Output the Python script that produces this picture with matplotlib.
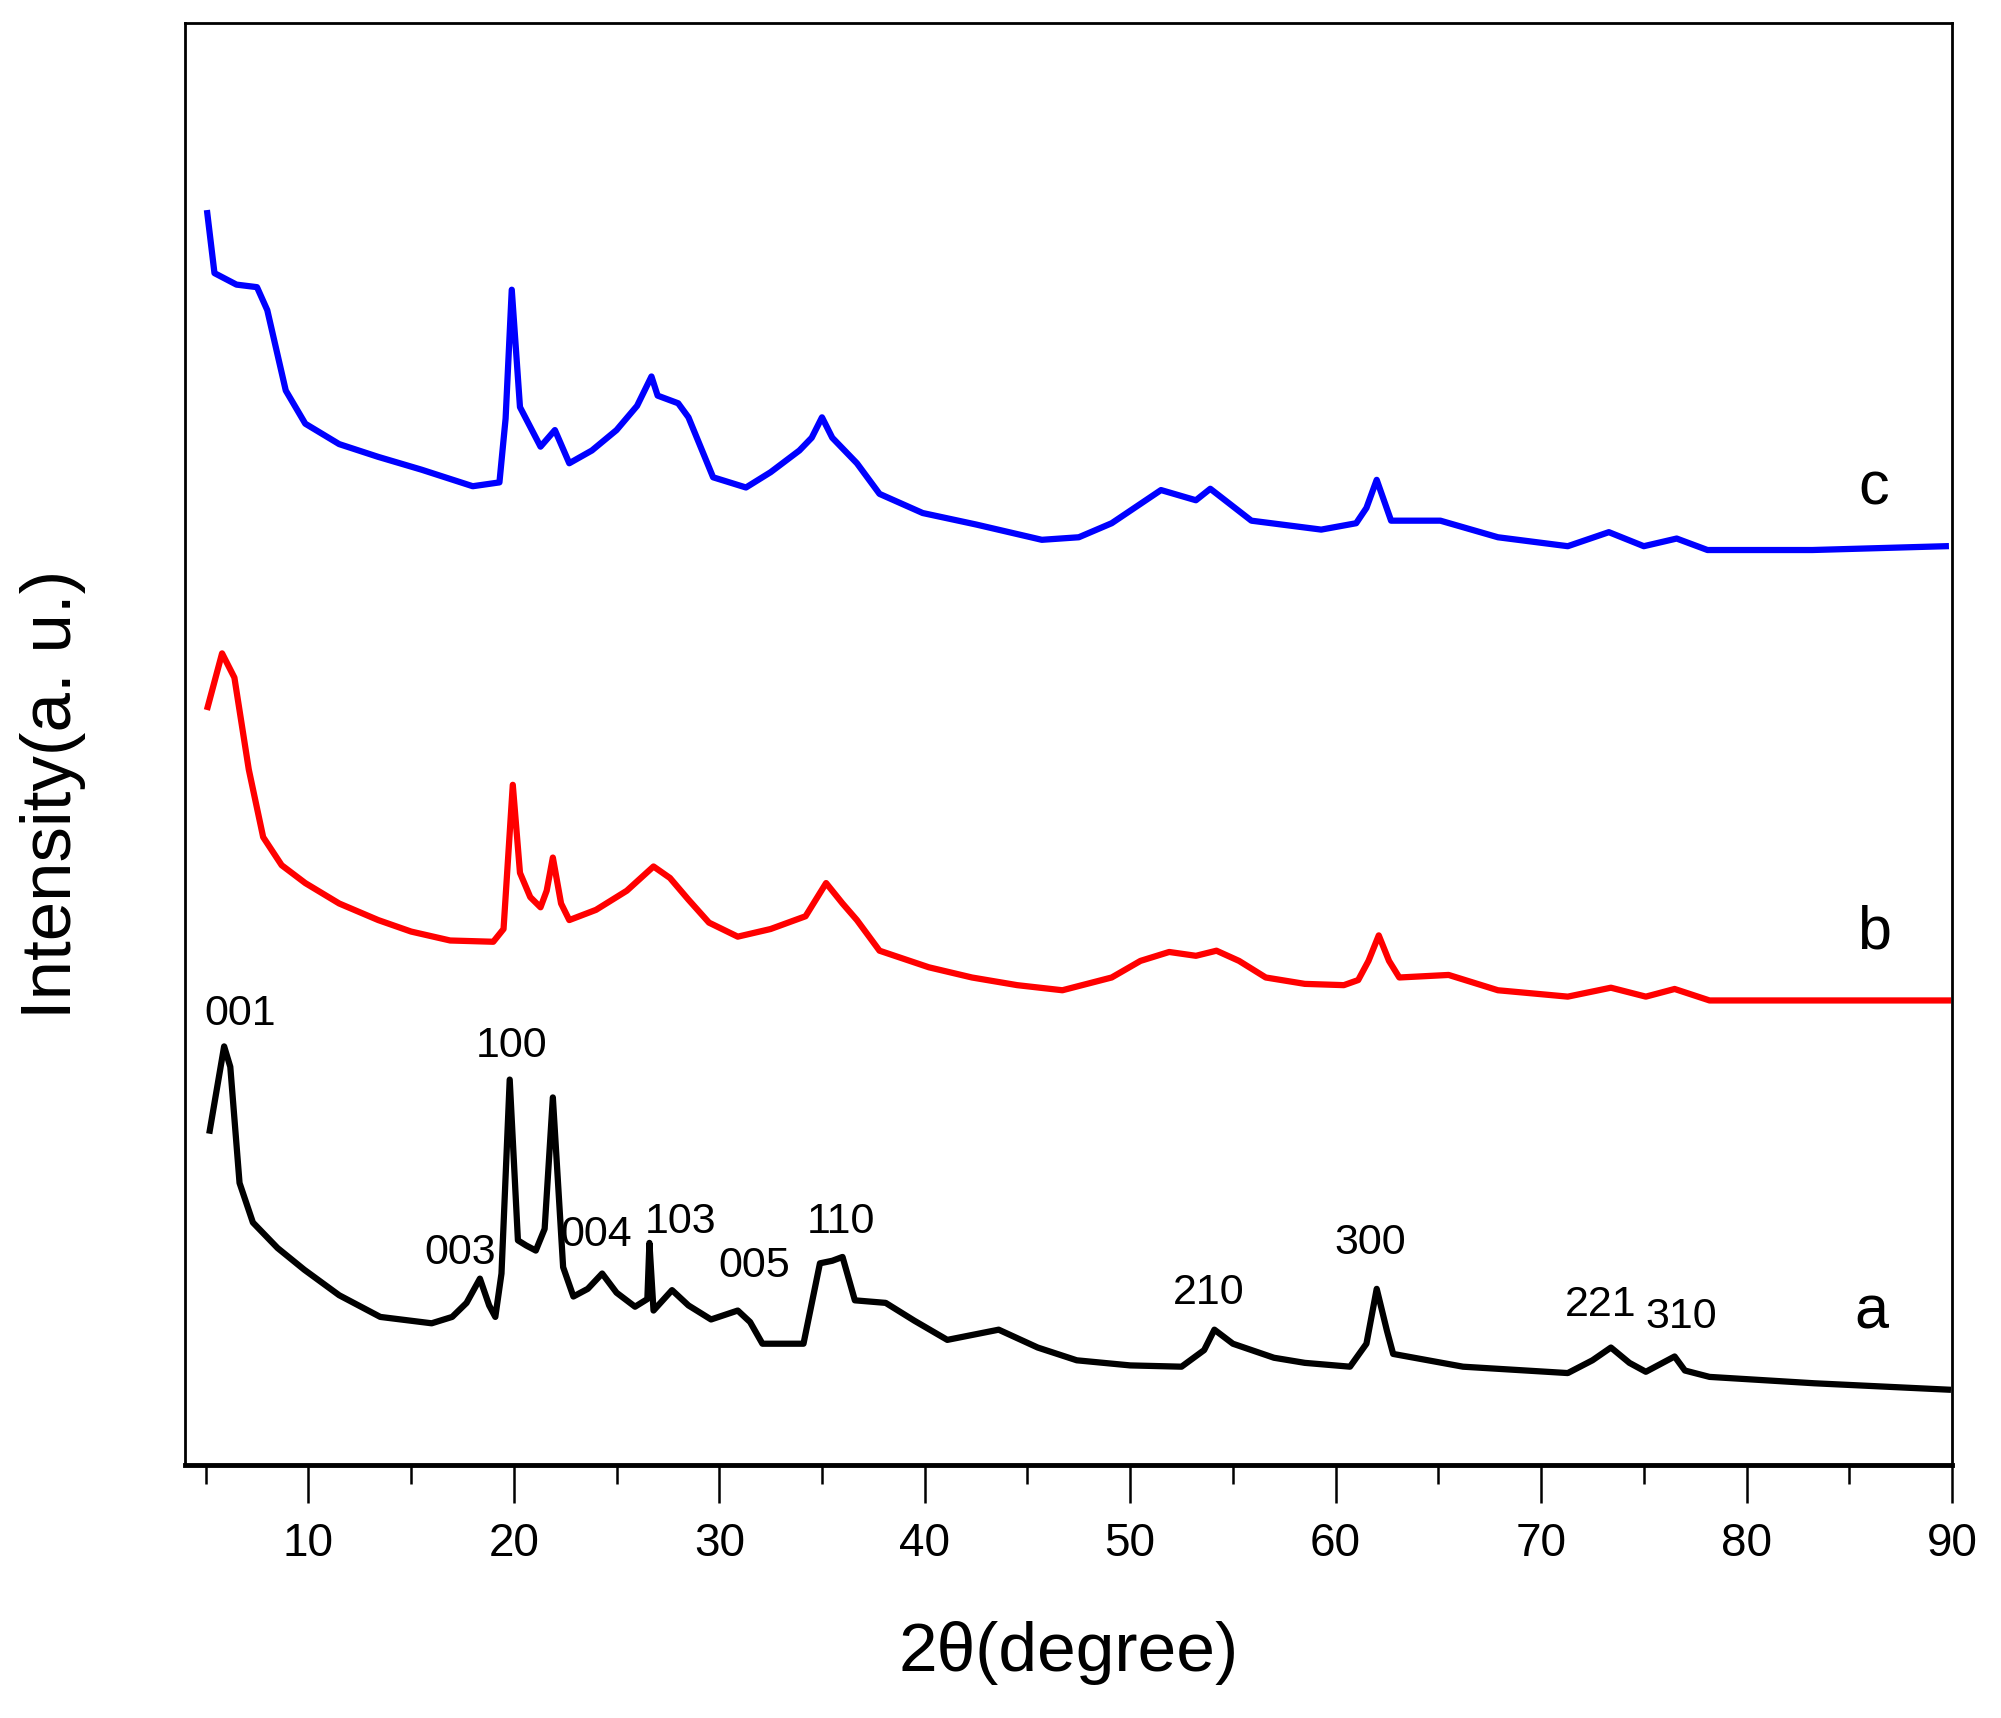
import matplotlib.pyplot as plt
from matplotlib.ticker import MultipleLocator

plt.rcParams['font.family'] = ['Liberation Sans', 'DejaVu Sans']

# curve a (black)
two_theta_a = [5.2, 5.9, 6.2, 6.65, 7.3, 8.5, 9.8, 11.5, 13.5, 16.0, 17.0, 17.7,
               18.35, 18.8, 19.1, 19.4, 19.8, 20.2, 20.6, 21.07, 21.5, 21.9,
               22.4, 22.9, 23.6, 24.3, 25.0, 25.9, 26.5, 26.6, 26.8, 27.7, 28.5,
               29.6, 30.9, 31.5, 32.1, 34.1, 34.9, 35.5, 36.0, 36.6, 38.1, 39.5,
               41.1, 43.6, 45.5, 47.4, 50, 52.5, 53.6, 54.1, 55, 57.0, 58.5,
               60.7, 61.5, 62.0, 62.5, 62.8, 66.2, 71.3, 72.5, 73.4, 74.3, 75.1,
               76.5, 77, 78.2, 83.3, 89.8]
intensity_a = [262, 328, 312, 221, 190, 170, 153, 133, 116, 111, 116, 127,
               146, 125, 116, 150, 302, 176, 172, 168, 185, 288,
               155, 132, 138, 150, 135, 124, 130, 174, 121, 137, 125,
               114, 121, 112, 95, 95, 158, 160, 163, 129, 127, 113,
               98, 106, 92, 82, 78, 77, 90, 106, 95, 84, 80,
               77, 95, 138, 105, 87, 77, 72, 82, 92, 80, 73,
               85, 74, 69, 64, 59]

# curve b (red)
two_theta_b = [5.1, 5.8, 6.4, 7.1, 7.8, 8.7, 9.85, 11.5, 13.4, 15, 16.9, 19.0,
               19.5, 19.95, 20.3, 20.8, 21.3, 21.6, 21.9, 22.3, 22.7, 24.0, 25.5,
               26.8, 27.6, 28.5, 29.5, 30.9, 32.5, 34.2, 35.2, 36.0, 36.7, 37.8,
               40.2, 42.3, 44.5, 46.7, 49.1, 50.5, 51.9, 53.2, 54.2, 55.3, 56.6,
               58.5, 60.4, 61.1, 61.6, 62.1, 62.6, 63.1, 65.5, 67.9, 71.3, 73.4,
               75.1, 76.5, 78.2, 83.3, 89.8]
intensity_b = [594, 636, 617, 545, 492, 470, 456, 440, 427, 418, 411, 410,
               420, 533, 464, 445, 437, 450, 476, 440, 427, 435, 450,
               469, 460, 443, 425, 414, 420, 430, 456, 440, 427, 403,
               390, 382, 376, 372, 382, 395, 402, 399, 403, 395, 382,
               377, 376, 380, 395, 415, 395, 382, 384, 372, 367, 374,
               367, 373, 364, 364, 364]

# curve c (blue)
two_theta_c = [5.08, 5.43, 6.5, 7.5, 8.0, 8.9, 9.85, 11.5, 13.4, 15.5, 18.0,
               19.3, 19.6, 19.9, 20.3, 21.3, 22.0, 22.7, 23.8, 25.0, 26.0, 26.7,
               27.0, 28.0, 28.5, 29.7, 31.3, 32.5, 33.9, 34.5, 35.0, 35.5, 36.7,
               37.8, 39.9, 42.5, 45.7, 47.5, 49.1, 51.5, 53.2, 53.9, 55.9, 59.3,
               61.0, 61.5, 62.0, 62.7, 65.1, 67.9, 71.3, 73.3, 75.0, 76.6, 78.1,
               83.2, 89.7]
intensity_c = [981, 934, 925, 923, 905, 842, 816, 800, 790, 780, 767,
               770, 820, 921, 829, 798, 811, 785, 795, 811, 830, 853,
               838, 832, 821, 774, 766, 778, 795, 805, 821, 805, 785,
               761, 746, 737, 725, 727, 738, 764, 756, 765, 740, 733,
               738, 750, 772, 740, 740, 727, 720, 731, 720, 726, 717,
               717, 720]

hkl_labels = ['001', '100', '003', '004', '103', '005', '110', '210', '300', '221', '310']
hkl_x = [6.7, 19.9, 17.4, 24.0, 28.1, 31.7, 35.9, 53.8, 61.7, 72.9, 76.8]
hkl_y = [353, 328, 166, 180, 190, 156, 190, 135, 174, 125, 116]

curve_names = ['a', 'b', 'c']
curve_name_x = [86.1, 86.2, 86.2]
curve_name_y = [119, 417, 765]

fig = plt.figure(figsize=(20.01, 17.18), dpi=100)
ax = fig.add_axes([0.0925, 0.1473, 0.883, 0.8393])

ax.plot(two_theta_a, intensity_a, color='black', lw=4.5)
ax.plot(two_theta_b, intensity_b, color='red', lw=4.5)
ax.plot(two_theta_c, intensity_c, color='blue', lw=4.5)

for lab, x, y in zip(hkl_labels, hkl_x, hkl_y):
    ax.text(x, y, lab, fontsize=31, ha='center', va='center')
for lab, x, y in zip(curve_names, curve_name_x, curve_name_y):
    ax.text(x, y, lab, fontsize=44, ha='center', va='center')

ax.set_xlim(4, 90)
ax.set_ylim(0, 1130)
ax.xaxis.set_major_locator(MultipleLocator(10))
ax.xaxis.set_minor_locator(MultipleLocator(5))
ax.set_xticks([10, 20, 30, 40, 50, 60, 70, 80, 90])
ax.set_yticks([])
ax.tick_params(axis='x', which='major', direction='out', length=27, width=1.8,
               labelsize=33, pad=14)
ax.tick_params(axis='x', which='minor', direction='out', length=14, width=1.8)
for s in ax.spines.values():
    s.set_linewidth(2)
ax.spines['bottom'].set_linewidth(3.5)

ax.set_xlabel('2θ(degree)', fontsize=50, labelpad=40)
ax.set_ylabel('Intensity(a. u.)', fontsize=51)
ax.yaxis.set_label_coords(-0.056, 0.465)

plt.savefig('out.png', dpi=100)
